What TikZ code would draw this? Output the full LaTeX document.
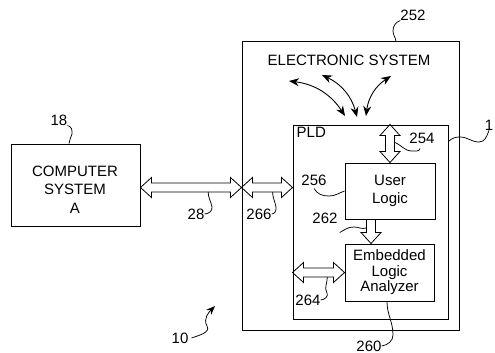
\documentclass[tikz,border=0pt]{standalone}
\usepackage{fontspec}
\setmainfont{Liberation Sans}
\usetikzlibrary{calc,arrows.meta}

% hollow bus arrow with a head at both ends
\newcommand{\dblarrow}[2]{%
  \draw[hollow] (#1)
    -- ($(#1)!\ahl!(#2)!\ahw!90:(#2)$) -- ($(#1)!\ahl!(#2)!\asw!90:(#2)$)
    -- ($(#2)!\ahl!(#1)!\asw!-90:(#1)$) -- ($(#2)!\ahl!(#1)!\ahw!-90:(#1)$)
    -- (#2)
    -- ($(#2)!\ahl!(#1)!\ahw!90:(#1)$) -- ($(#2)!\ahl!(#1)!\asw!90:(#1)$)
    -- ($(#1)!\ahl!(#2)!\asw!-90:(#2)$) -- ($(#1)!\ahl!(#2)!\ahw!-90:(#2)$)
    -- cycle;}
% hollow bus arrow with a head at the second end only
\newcommand{\sglarrow}[2]{%
  \draw[hollow] ($(#1)!\asw!90:(#2)$)
    -- ($(#2)!\ahl!(#1)!\asw!-90:(#1)$) -- ($(#2)!\ahl!(#1)!\ahw!-90:(#1)$)
    -- (#2)
    -- ($(#2)!\ahl!(#1)!\ahw!90:(#1)$) -- ($(#2)!\ahl!(#1)!\asw!90:(#1)$)
    -- ($(#1)!\asw!-90:(#2)$);}

\begin{document}
\begin{tikzpicture}[x=1pt,y=-1pt,
  box/.style={draw,line width=1pt,inner sep=0pt},
  lbl/.style={font=\fontsize{15}{18}\selectfont,inner sep=0pt},
  leader/.style={line width=0.75pt},
  hollow/.style={draw,line width=0.8pt,line join=miter},
  bent/.style={line width=0.9pt,{Stealth[length=10pt,width=8pt]}-{Stealth[length=10pt,width=8pt]}}]
\def\ahl{11pt}
\def\ahw{10pt}
\def\asw{4.5pt}

\useasboundingbox (0,0) rectangle (495,353);

% boxes
\node[box,minimum width=129pt,minimum height=82pt] (comp) at (75.5,185) {};
\node[lbl,align=center,font=\fontsize{15}{18.5}\selectfont] (comptext) at (75,189.5) {COMPUTER\\SYSTEM\\A};

\node[box,minimum width=217pt,minimum height=288pt] (esys) at (350.5,186) {};
\node[lbl,anchor=base] (estitle) at (349,66) {ELECTRONIC SYSTEM};

\node[box,minimum width=155pt,minimum height=194pt] (pld) at (370.5,222) {};
\node[lbl,anchor=north west] (pldtitle) at ([shift={(4,2.5)}]pld.north west) {PLD};

\node[box,lbl,align=center,minimum width=90pt,minimum height=56pt,
  font=\fontsize{15}{17.5}\selectfont] (ulogic) at (390,191) {User\\Logic};
\node[box,lbl,align=center,minimum width=89pt,minimum height=57pt,
  font=\fontsize{15}{15.5}\selectfont] (ela) at (389.5,272.5) {Embedded\\Logic\\Analyzer};

% buses
\coordinate (busL) at ([yshift=-2.5pt]comp.east);
\coordinate (busM) at (busL -| esys.west);
\coordinate (busR) at (busL -| pld.west);
\dblarrow{busL}{busM}
\dblarrow{busM}{busR}

\coordinate (top254) at (ulogic.north |- pld.north);
\dblarrow{top254}{ulogic.north}

\coordinate (top262) at ([xshift=-19pt]ulogic.south);
\coordinate (bot262) at (top262 |- ela.north);
\sglarrow{top262}{bot262}

\coordinate (lft264) at (ela.west -| pld.west);
\dblarrow{lft264}{ela.west}

% signals of the electronic system
\foreach \sx/\sy/\ex/\ey/\ba in {289/81/345/116/25,322/75/357/117/25,391/76/366/116/-25}
  \draw[bent] (\sx,\sy) to[bend left=\ba] (\ex,\ey);

% reference numerals
\node[lbl] (lab252) at (413,15) {252};
\draw[leader] (lab252.south west) to[out=200,in=90] (393,31) to[out=-90,in=95] (396,0 |- esys.north);

\node[lbl] (lab18) at (59,120) {18};
\draw[leader] (lab18.south east) to[out=-10,in=80] (72,134) to[out=-100,in=90] (69,0 |- comp.north);

\node[lbl] (lab28) at (196,214) {28};
\coordinate (foot28) at ($(busL)!0.67!(busM)+(0,4.5)$);
\draw[leader] (lab28.east) to[out=0,in=-80] (212,207) to[out=100,in=-90] (foot28);

\node[lbl] (lab266) at (259,214) {266};
\coordinate (foot266) at ($(busM)!0.61!(busR)+(0,4.5)$);
\draw[leader] (lab266.east) to[out=0,in=-80] (276,207) to[out=100,in=-90] (foot266);

\node[lbl] (lab256) at (314,180) {256};
\draw[leader] ([yshift=-3pt]lab256.south) to[out=-60,in=180] (329,196) to[out=0,in=200] (ulogic.west);

\node[lbl] (lab254) at (422,138) {254};
\coordinate (side254) at ($(top254)!0.47!(ulogic.north)+(4.5,0)$);
\draw[leader] (side254) to[out=-20,in=180] (412,151) to[out=0,in=-100] ([shift={(-2,5)}]lab254.south);

\node[lbl] (lab1) at (489,125) {1};
\draw[leader] ([yshift=-17pt]pld.north east) to[out=45,in=180] (460,137) to[out=0,in=180] (479,142) to[out=0,in=-110] (lab1.south);

\node[lbl] (lab262) at (325,218) {262};
\coordinate (side262) at ($(top262)!0.35!(bot262)+(-4.5,0)$);
\draw[leader] ([shift={(2,9)}]lab262.south east) to[out=30,in=180] (354,227) to[out=0,in=200] (side262);

\node[lbl] (lab264) at (308,300) {264};
\coordinate (foot264) at ($(lft264)!0.67!(ela.west)+(0,4.5)$);
\draw[leader] (lab264.east) to[out=0,in=-60] (327,293) to[out=120,in=-90] (foot264);

\node[lbl] (lab260) at (369,346) {260};
\draw[leader] (lab260.east) to[out=10,in=-90] (393,335) to[out=90,in=-90] ([xshift=-2.5pt]ela.south);

\node[lbl] (lab10) at (180,338) {10};
\coordinate (tip10) at (215,306);
\draw[leader,-{Stealth[length=9pt,width=7pt]}] ([xshift=3pt]lab10.east) to[out=20,in=-60] (207,326) to[out=120,in=-135] (tip10);

\end{tikzpicture}
\end{document}
